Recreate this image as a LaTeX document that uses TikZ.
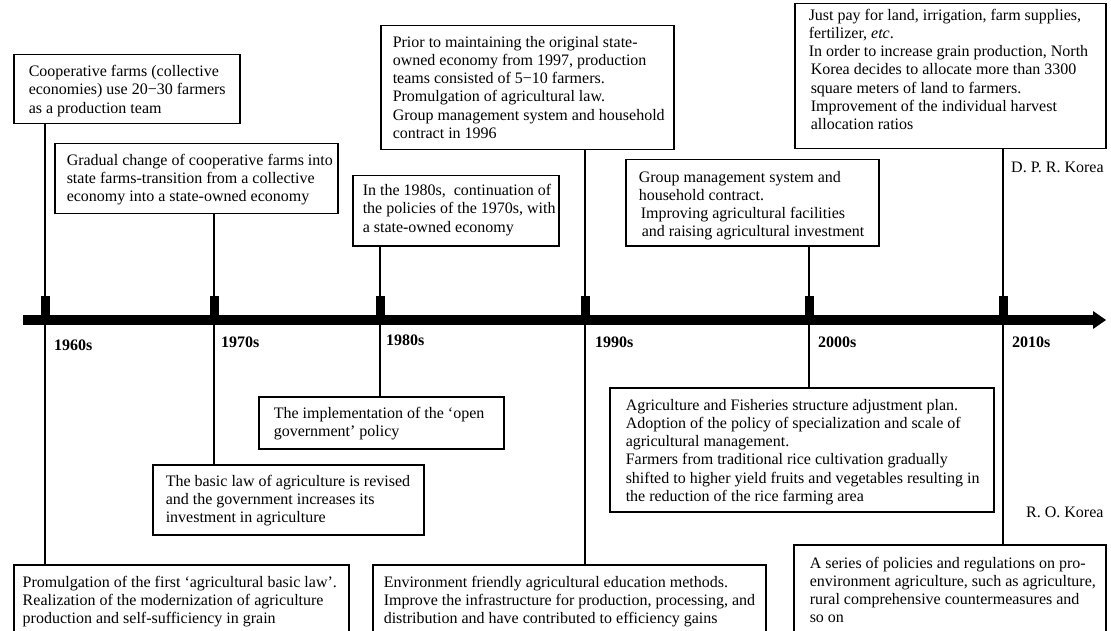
\documentclass[tikz,border=0pt]{standalone}
\usepackage{fontspec}
\setmainfont{Liberation Serif}
\newcommand\tlbox[8]{%
 \node[tlb, anchor=north west] (#1) at (#2,#3) {\parbox[c][\dimexpr#5pt-#3pt\relax][t]{\dimexpr#4pt-#2pt\relax}{\raggedright\leftskip=#6pt\relax\vspace*{\dimexpr#7pt-12.74pt\relax}\strut#8}};}
\tikzset{
 tlb/.style={draw, line width=1.5pt, inner sep=0pt, font=\fontsize{16}{18.2}\selectfont},
 yr/.style={anchor=west, inner sep=0pt, font=\bfseries\fontsize{16}{18}\selectfont},
 cty/.style={anchor=west, inner sep=0pt, font=\fontsize{16}{18}\selectfont},
 conn/.style={line width=1.6pt},
 tickmark/.style={fill=black}
}
\begin{document}
\begin{tikzpicture}[x=1pt,y=-1pt]
\useasboundingbox (0,0) rectangle (1111,631);
% axis
\coordinate (axL) at (23,320);
\coordinate (axR) at (1106,320);
\fill (23,315) rectangle (1095,325);
\fill (1093,311) -- (axR) -- (1093,329) -- cycle;
% tick coordinates
\coordinate (t60) at (45,320);
\coordinate (t70) at (214,320);
\coordinate (t80) at (380,320);
\coordinate (t90) at (585,320);
\coordinate (t00) at (809,320);
\coordinate (t10) at (1003,320);
\foreach \t in {t60,t70,t80,t90,t00,t10}{
 \fill[tickmark] (\t) +(-4.5,-24) rectangle +(4.5,0);
}
% year labels
\node[yr] (y60) at (54,345) {1960s};
\node[yr] (y70) at (221,342) {1970s};
\node[yr] (y80) at (386,340) {1980s};
\node[yr] (y90) at (595,342) {1990s};
\node[yr] (y00) at (818,342) {2000s};
\node[yr] (y10) at (1012,342) {2010s};
% top boxes (D. P. R. Korea)
\tlbox{A}{13}{54}{239}{123}{15}{22}{Cooperative farms (collective\\economies) use 20−30 farmers\\as a production team}
\tlbox{B}{54}{143}{337}{213}{12}{21.5}{Gradual change of cooperative farms into\\state farms-transition from a collective\\economy into a state-owned economy}
\tlbox{C}{352}{175}{558}{245}{10}{20}{In the 1980s,\ \ continuation of\\the policies of the 1970s, with\\a state-owned economy}
\tlbox{D}{380}{25}{673}{149}{12}{21.5}{Prior to maintaining the original state-\\owned economy from 1997, production\\teams consisted of 5−10 farmers.\\Promulgation of agricultural law.\\Group management system and household\\contract in 1996}
\tlbox{E}{625}{159}{878}{245}{13}{22.5}{Group management system and\\household contract.\\\hspace*{2pt}Improving agricultural facilities\\\hspace*{3pt}and raising agricultural investment}
\tlbox{F}{794}{3}{1105}{148}{14}{16.5}{Just pay for land, irrigation, farm supplies,\\fertilizer, \textit{etc}.\\In order to increase grain production, North\\\hspace*{2pt}Korea decides to allocate more than 3300\\\hspace*{2pt}square meters of land to farmers.\\\hspace*{2pt}Improvement of the individual harvest\\\hspace*{2pt}allocation ratios}
% bottom boxes (R. O. Korea)
\tlbox{G}{258}{396}{503}{448}{15}{21.5}{The implementation of the `open\\government' policy}
\tlbox{H}{152}{464}{423}{534}{13}{21.5}{The basic law of agriculture is revised\\and the government increases its\\investment in agriculture}
\tlbox{I}{609}{387}{993}{511}{16}{22.5}{Agriculture and Fisheries structure adjustment plan.\\Adoption of the policy of specialization and scale of\\agricultural management.\\Farmers from traditional rice cultivation gradually\\shifted to higher yield fruits and vegetables resulting in\\the reduction of the rice farming area}
\tlbox{J}{13}{564}{348}{660}{9}{22.5}{Promulgation of the first `agricultural basic law'.\\Realization of the modernization of agriculture\\production and self-sufficiency in grain}
\tlbox{K}{372}{564}{765}{660}{11}{22.5}{Environment friendly agricultural education methods.\\Improve the infrastructure for production, processing, and\\distribution and have contributed to efficiency gains}
\tlbox{L}{793}{544}{1105}{660}{16}{23.5}{A series of policies and regulations on pro-\\environment agriculture, such as agriculture,\\rural comprehensive countermeasures and\\so on}
% country labels
\node[cty] (dprk) at (1011,167) {D. P. R. Korea};
\node[cty] (rok) at (1026,512) {R. O. Korea};
% connectors
\draw[conn] (A.south -| t60) -- (J.north -| t60);
\draw[conn] (B.south -| t70) -- (H.north -| t70);
\draw[conn] (C.south -| t80) -- (G.north -| t80);
\draw[conn] (D.south -| t90) -- (K.north -| t90);
\draw[conn] (E.south -| t00) -- (I.north -| t00);
\draw[conn] (F.south -| t10) -- (L.north -| t10);
\end{tikzpicture}
\end{document}
